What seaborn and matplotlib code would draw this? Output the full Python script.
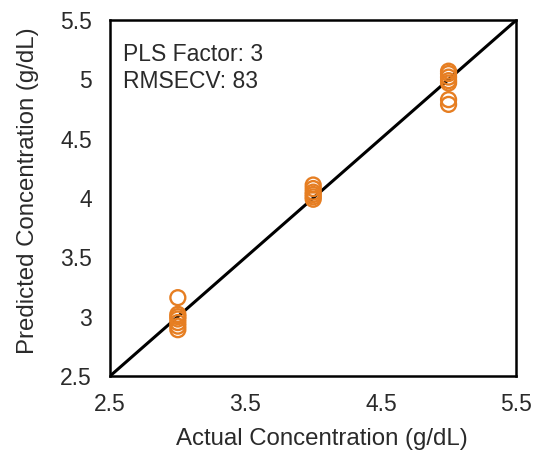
import matplotlib
matplotlib.use("Agg")
import matplotlib.pyplot as plt
import seaborn as sns
import pandas as pd

actual_x3 = [3, 3, 3, 3, 3, 3, 3]
pred_x3 = [3.16, 3.02, 3.00, 2.98, 2.95, 2.92, 2.89]
actual_x4 = [4, 4, 4, 4, 4, 4]
pred_x4 = [4.11, 4.08, 4.05, 4.03, 4.01, 3.99]
actual_x5 = [5, 5, 5, 5, 5, 5, 5]
pred_x5 = [5.07, 5.05, 5.02, 4.99, 4.97, 4.83, 4.79]
x_ticks = [2.5, 3.5, 4.5, 5.5]
y_ticks = [2.5, 3, 3.5, 4, 4.5, 5, 5.5]
y_tick_labels = ["2.5", "3", "3.5", "4", "4.5", "5", "5.5"]
annot_lines = ["PLS Factor: 3", "RMSECV: 83"]

df = pd.DataFrame({
    "actual": actual_x3 + actual_x4 + actual_x5,
    "predicted": pred_x3 + pred_x4 + pred_x5,
})

sns.set_theme(style="white")
plt.rcParams["font.family"] = ["Liberation Sans", "DejaVu Sans"]

fig = plt.figure(figsize=(5.4, 4.59), dpi=100)
ax = fig.add_axes([0.204, 0.181, 0.752, 0.775])

ax.plot([2.5, 5.5], [2.5, 5.5], color="black", lw=2.2, zorder=1)
sns.scatterplot(data=df, x="actual", y="predicted", ax=ax, marker="o",
                s=115, facecolors="none", edgecolor="#E67E22", linewidth=1.7,
                zorder=3)

ax.set_xlim(2.5, 5.5)
ax.set_ylim(2.5, 5.5)
ax.set_xticks(x_ticks)
ax.set_xticklabels([str(t) for t in x_ticks])
ax.set_yticks(y_ticks)
ax.set_yticklabels(y_tick_labels)
ax.tick_params(direction="in", length=5, width=1.2, colors="black",
               labelsize=16.5, pad=12, labelcolor="#2a2a2a")
ax.tick_params(axis="y", pad=13)
ax.set_xlabel("Actual Concentration (g/dL)", fontsize=17.3, color="#2a2a2a", labelpad=9)
ax.set_ylabel("Predicted Concentration (g/dL)", fontsize=17.3, color="#2a2a2a", labelpad=15)
ax.xaxis.label.set_x(0.522)
ax.yaxis.label.set_y(0.522)
for s in ax.spines.values():
    s.set_color("black")
    s.set_linewidth(1.8)
    s.set_visible(True)

ax.text(0.032, 0.904, annot_lines[0], transform=ax.transAxes, fontsize=16.5, color="#2a2a2a", va="center")
ax.text(0.032, 0.829, annot_lines[1], transform=ax.transAxes, fontsize=16.5, color="#2a2a2a", va="center")

fig.savefig("out.png", dpi=100)
